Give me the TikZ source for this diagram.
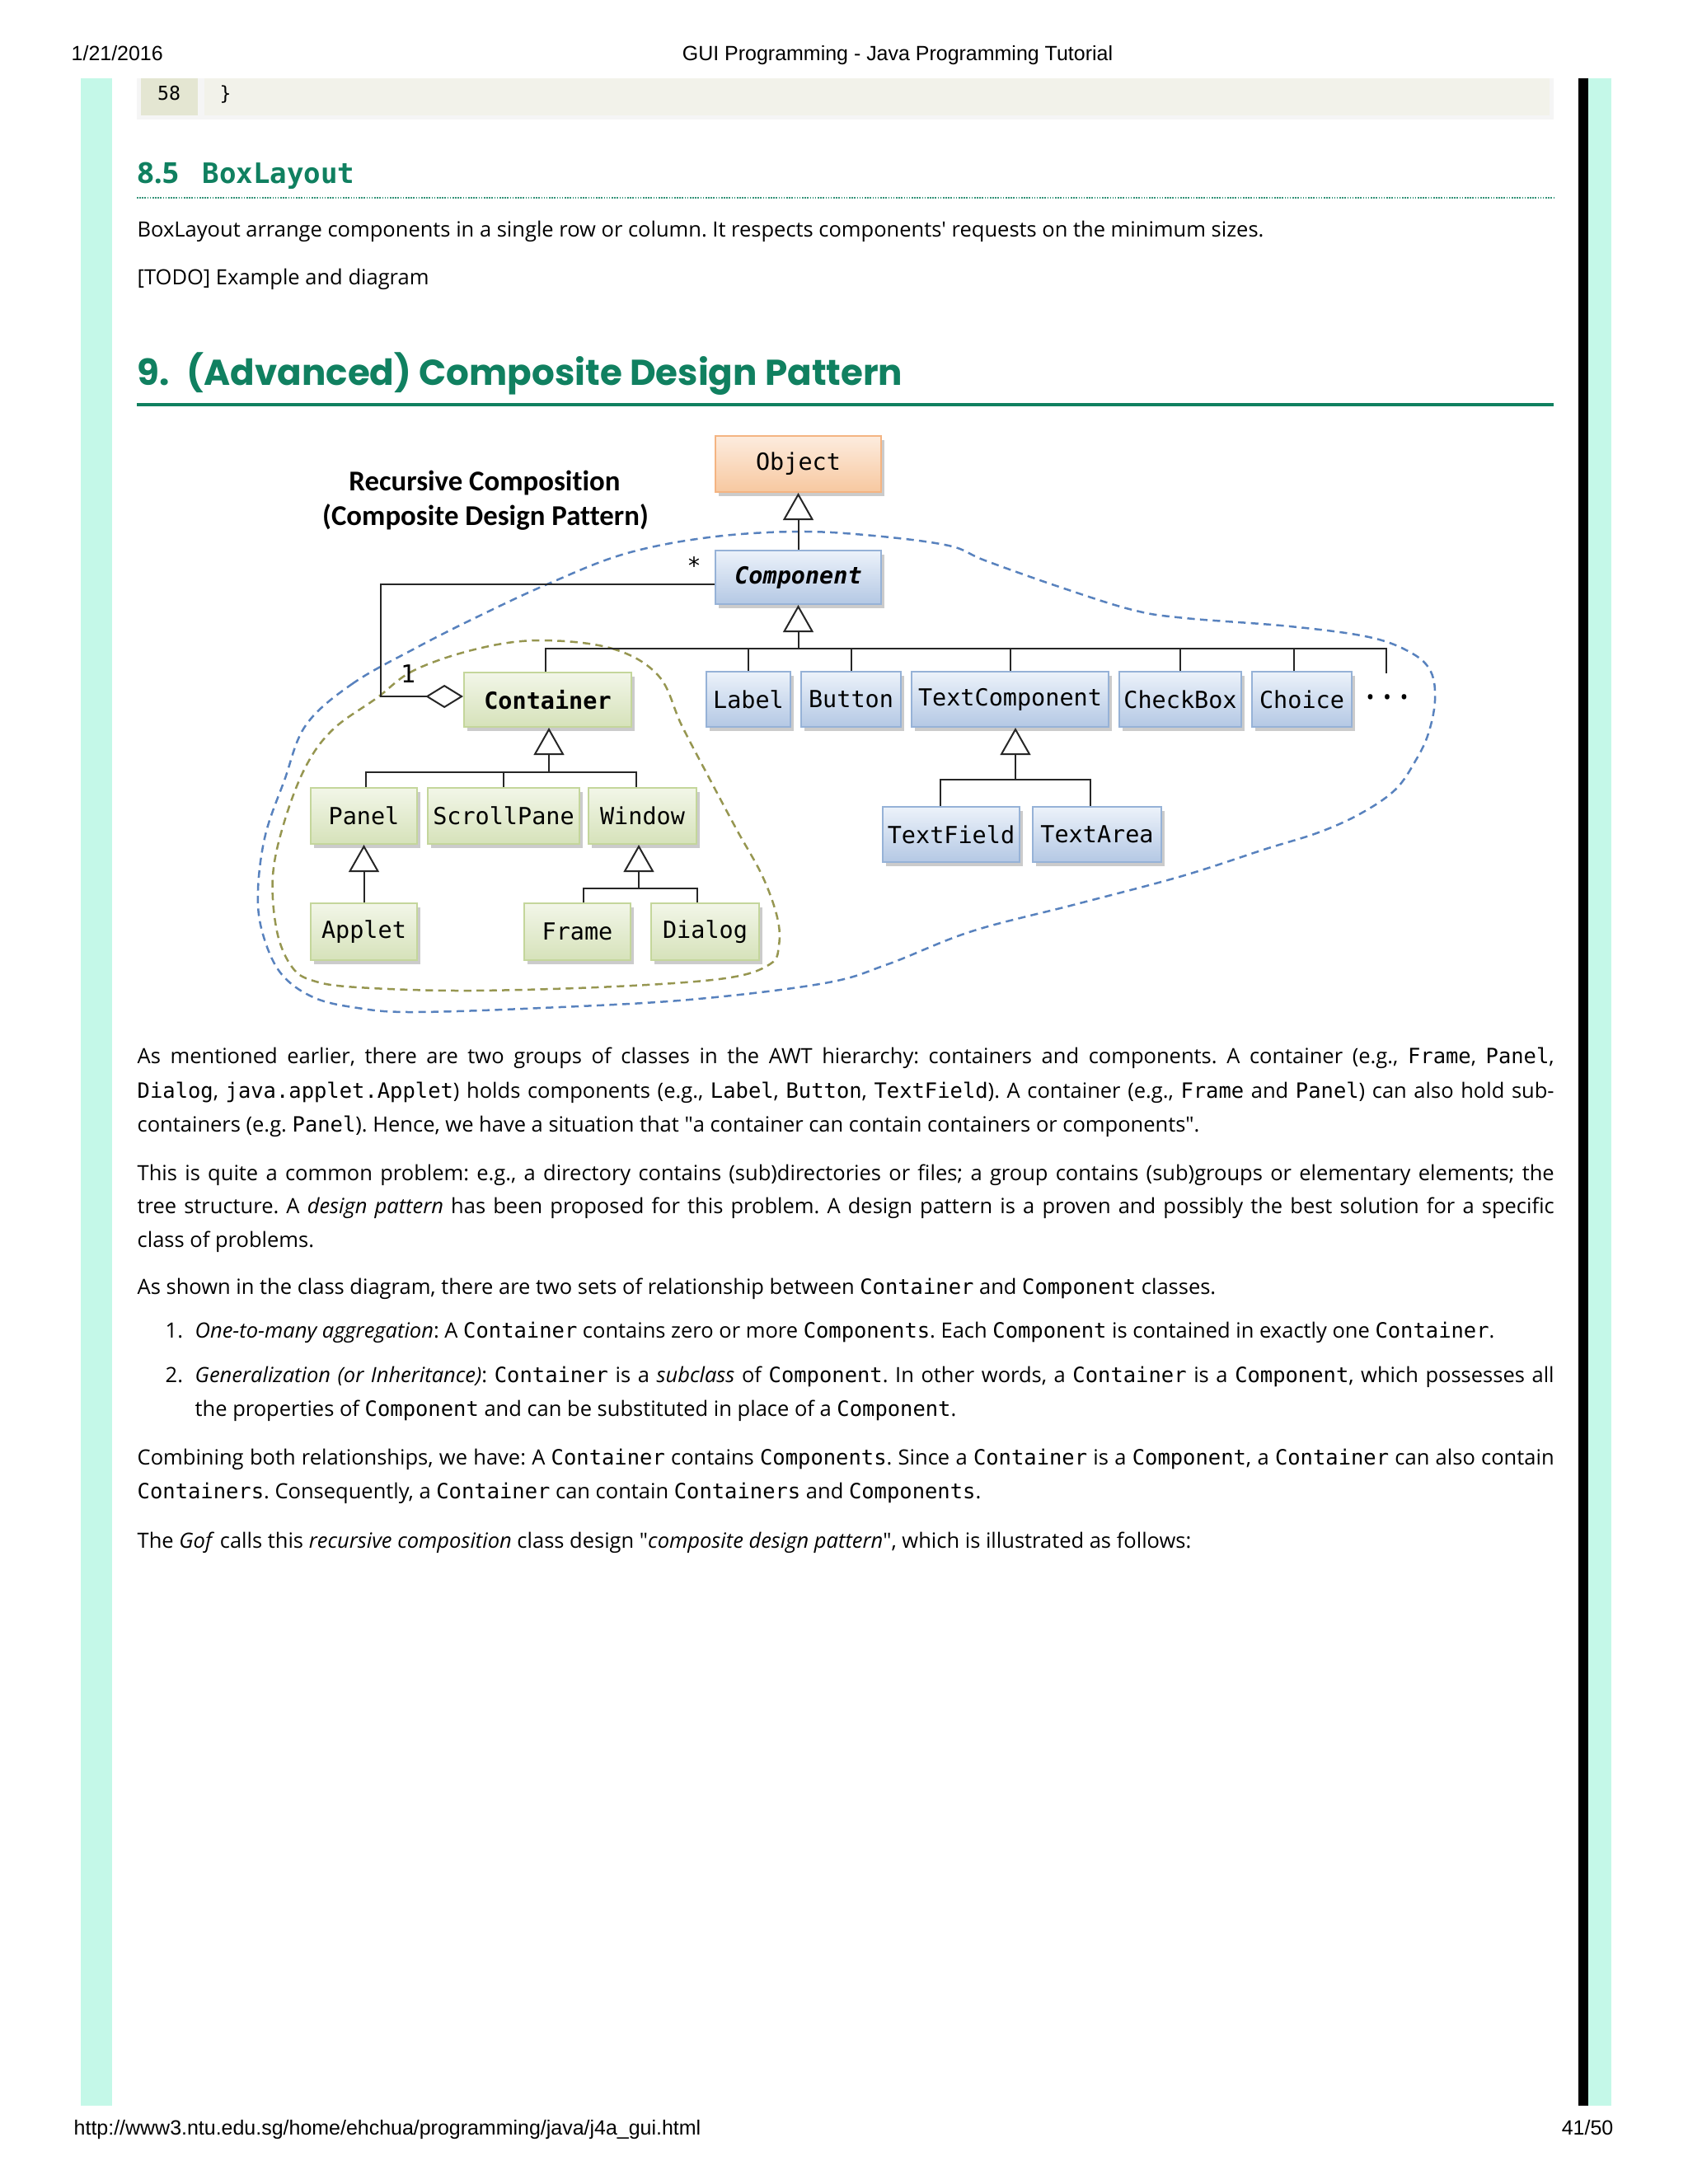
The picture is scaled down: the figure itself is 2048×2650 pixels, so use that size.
\documentclass[tikz,border=0pt]{standalone}
\usepackage{fontspec}
\setmainfont{Open Sans}
\newfontfamily\cmono{DejaVu Sans Mono}[Scale=1.0]
\newfontfamily\dmono{DejaVu Sans Mono}
\newfontfamily\headfont{Poppins}
\newfontfamily\arialf{Liberation Sans}
\newfontfamily\calib{Carlito}[Ligatures=NoCommon]
\usetikzlibrary{arrows.meta,shadows}
\newdimen\upx \upx=0.01cm
\newcommand\cd[1]{{\cmono #1}}
\newcommand\jline[2]{\hbox to #1\upx{#2}}
\newcommand\sq{\textquotedbl}
\definecolor{hgreen}{RGB}{16,128,96}
\definecolor{mint}{RGB}{196,248,232}
\definecolor{bluedash}{RGB}{88,130,190}
\definecolor{olivedash}{RGB}{150,150,80}
\definecolor{otop}{RGB}{253,236,222}
\definecolor{obot}{RGB}{247,200,160}
\definecolor{oborder}{RGB}{244,180,130}
\definecolor{btop}{RGB}{236,242,250}
\definecolor{bbot}{RGB}{180,200,228}
\definecolor{bborder}{RGB}{150,178,215}
\definecolor{gtop}{RGB}{242,246,232}
\definecolor{gbot}{RGB}{214,226,186}
\definecolor{gborder}{RGB}{196,214,155}
\definecolor{numcell}{RGB}{228,230,210}
\definecolor{codecell}{RGB}{242,242,234}
\tikzset{
  boxbase/.style={line width=2\upx, inner sep=0pt, text=black,
    font=\dmono\fontsize{8.1}{9}\selectfont,
    drop shadow={shadow xshift=4\upx, shadow yshift=-5\upx, fill=black!45, opacity=0.45}},
  obox/.style={boxbase, draw=oborder, top color=otop, bottom color=obot},
  bbox/.style={boxbase, draw=bborder, top color=btop, bottom color=bbot},
  gbox/.style={boxbase, draw=gborder, top color=gtop, bottom color=gbot},
  conn/.style={line width=2\upx, draw=black!85},
  gen/.style={conn, -{Triangle[open, length=9.4pt, width=10.5pt, fill=white]}},
  agg/.style={conn, -{Diamond[open, length=13pt, width=8pt, fill=white]}},
  hdr/.style={inner sep=0pt, font=\arialf\fontsize{7.1}{8}\selectfont},
  body/.style={inner sep=0pt, anchor=base west, font=\frenchspacing\fontsize{7.25}{8.7}\selectfont},
  bluedashed/.style={draw=bluedash, line width=2.5\upx, dash pattern=on 2.6pt off 1.8pt},
  olivedashed/.style={draw=olivedash, line width=2.5\upx, dash pattern=on 2.6pt off 1.8pt}
}
\begin{document}
\begin{tikzpicture}[x=0.01cm, y=-0.01cm]
\useasboundingbox (0,0) rectangle (2048,2650);
\fill[white] (0,0) rectangle (2048,2650);
% side bars
\fill[mint] (98,95) rectangle (136,2555);
\fill[black] (1915,95) rectangle (1927,2555);
\fill[mint] (1927,95) rectangle (1955,2555);
% header / footer
\node[hdr, anchor=base west] (date) at (86,73) {1/21/2016};
\node[hdr, anchor=base] (ptitle) at (1089,73) {GUI Programming - Java Programming Tutorial};
\node[hdr, anchor=base west] (url) at (89,2590) {http://www3.ntu.edu.sg/home/ehchua/programming/java/j4a\_gui.html};
\node[hdr, anchor=base east] (pg) at (1958,2590) {41/50};
% code block remainder
\fill[black!4] (166,95) rectangle (1885,145);
\fill[numcell] (171,95) rectangle (240,140);
\fill[codecell] (248,95) rectangle (1880,140);
\node[font=\dmono\fontsize{6.6}{8}\selectfont, inner sep=0pt, anchor=base] (ln58) at (205,121) {58};
\node[font=\dmono\fontsize{6.6}{8}\selectfont, inner sep=0pt, anchor=base west] (brace) at (266,121) {\}};
% heading 8.5
\node[inner sep=0pt, anchor=base west, text=hgreen, font=\bfseries\fontsize{10}{12}\selectfont] (h85num) at (166,222) {8.5};
\node[inner sep=0pt, anchor=base west, text=hgreen, font=\dmono\bfseries\fontsize{9.7}{12}\selectfont] (h85name) at (245,222) {BoxLayout};
\draw[hgreen!85, line width=1.6\upx, dash pattern=on 0.45pt off 0.45pt] (166,240) -- (1885,240);
\node[body] (t1) at (166,287) {BoxLayout arrange components in a single row or column. It respects components\textquotesingle{} requests on the minimum sizes.};
\node[body] (t2) at (166,345) {[TODO] Example and diagram};
% heading 9
\node[inner sep=0pt, anchor=base west, text=hgreen, font=\headfont\bfseries\fontsize{12.4}{15}\selectfont] (h9) at (166,467) {9.\hspace{6pt}(Advanced) Composite Design Pattern};
\fill[hgreen] (166,489) rectangle (1885,493);

% ---------------- diagram ----------------
\draw[bluedashed] plot[smooth cycle, tension=0.6] coordinates {
 (371,880) (427,830) (503,787) (580,748) (666,708) (758,672) (860,652) (967,645)
 (1060,650) (1151,662) (1195,680) (1285,712) (1374,740) (1438,750) (1565,760)
 (1661,773) (1712,792) (1736,815) (1741,850) (1733,890) (1718,922) (1693,958)
 (1651,987) (1600,1010) (1536,1030) (1434,1063) (1306,1097) (1179,1130)
 (1077,1170) (1000,1193) (836,1213) (657,1223) (501,1228) (434,1223) (380,1210)
 (340,1180) (318,1130) (313,1080) (322,1013) (345,947)};
\draw[olivedashed] plot[smooth cycle, tension=0.6] coordinates {
 (656,777) (743,787) (799,820) (827,880) (862,947) (894,1007) (925,1063) (943,1113)
 (945,1147) (934,1170) (880,1187) (746,1197) (568,1202) (434,1198) (380,1190)
 (354,1173) (336,1130) (331,1063) (345,997) (371,930) (404,885) (457,847) (503,813)
 (580,787)};

\node[font=\calib\bfseries\fontsize{9.9}{11}\selectfont, anchor=base, inner sep=0pt] (rc1) at (588,595) {Recursive Composition};
\node[font=\calib\bfseries\fontsize{9.9}{11}\selectfont, anchor=base, inner sep=0pt] (rc2) at (589,637) {(Composite Design Pattern)};

\node[obox, minimum width=201\upx, minimum height=68\upx] (object) at (968.5,563) {Object};
\node[bbox, minimum width=201\upx, minimum height=65\upx, font=\dmono\bfseries\itshape\fontsize{8.1}{9}\selectfont] (component) at (968.5,700.5) {Component};
\node[gbox, minimum width=203\upx, minimum height=66\upx, font=\dmono\bfseries\fontsize{8.1}{9}\selectfont] (container) at (664.5,849) {Container};
\node[bbox, minimum width=102\upx, minimum height=67\upx] (label) at (908,848.5) {Label};
\node[bbox, minimum width=121\upx, minimum height=67\upx] (button) at (1032.5,848.5) {Button};
\node[bbox, minimum width=239\upx, minimum height=67\upx] (textcomponent) at (1225.5,848.5) {TextComponent};
\node[bbox, minimum width=148\upx, minimum height=67\upx] (checkbox) at (1432,848.5) {CheckBox};
\node[bbox, minimum width=121\upx, minimum height=67\upx] (choice) at (1579.5,848.5) {Choice};
\node[inner sep=0pt, font=\fontsize{7.5}{8}\selectfont] (dots) at (1683,849) {\textbullet\hspace{3pt}\textbullet\hspace{3pt}\textbullet};
\node[bbox, minimum width=166\upx, minimum height=67\upx] (textfield) at (1154,1012.5) {TextField};
\node[bbox, minimum width=156\upx, minimum height=67\upx] (textarea) at (1331,1012.5) {TextArea};
\node[gbox, minimum width=129\upx, minimum height=68\upx] (panel) at (441.5,990) {Panel};
\node[gbox, minimum width=184\upx, minimum height=68\upx] (scrollpane) at (611,990) {ScrollPane};
\node[gbox, minimum width=131\upx, minimum height=68\upx] (window) at (779.5,990) {Window};
\node[gbox, minimum width=129\upx, minimum height=69\upx] (applet) at (441.5,1130.5) {Applet};
\node[gbox, minimum width=129\upx, minimum height=69\upx] (frame) at (700.5,1130.5) {Frame};
\node[gbox, minimum width=131\upx, minimum height=69\upx] (dialog) at (855.5,1130.5) {Dialog};

\node[inner sep=0pt, font=\dmono\fontsize{8}{9}\selectfont] (star) at (842,686) {*};
\node[inner sep=0pt, font=\dmono\fontsize{8.5}{9}\selectfont] (one) at (495,818) {1};

% Component -> Object
\draw[gen] (component.north) -- (object.south);
% Component subclasses
\coordinate (cb) at (968.5,787);
\coordinate (cend) at (1682,787);
\coordinate (cendlow) at (1682,817);
\draw[gen] (cb) -- (component.south);
\draw[conn] ([xshift=-3\upx]container.north) -- ([xshift=-3\upx]container.north |- cb) -- (cend) -- (cendlow);
\draw[conn] (label.north) -- (label.north |- cb);
\draw[conn] (button.north) -- (button.north |- cb);
\draw[conn] (textcomponent.north) -- (textcomponent.north |- cb);
\draw[conn] (checkbox.north) -- (checkbox.north |- cb);
\draw[conn] ([xshift=-9.5\upx]choice.north) -- ([xshift=-9.5\upx]choice.north |- cb);
% aggregation
\coordinate (ag1) at (462,709);
\coordinate (ag2) at (462,845);
\draw[agg] (component.west |- ag1) -- (ag1) -- (ag2) -- (container.west |- ag2);
% TextComponent subclasses
\coordinate (tb) at (1232,946);
\draw[gen] (tb) -- (tb |- textcomponent.south);
\draw[conn] ([xshift=-13\upx]textfield.north) -- ([xshift=-13\upx]textfield.north |- tb) -- ([xshift=-8\upx]textarea.north |- tb) -- ([xshift=-8\upx]textarea.north);
% Container subclasses
\coordinate (kb) at (666,937);
\draw[gen] (kb) -- (kb |- container.south);
\draw[conn] ([xshift=2.5\upx]panel.north) -- ([xshift=2.5\upx]panel.north |- kb) -- ([xshift=-7.5\upx]window.north |- kb) -- ([xshift=-7.5\upx]window.north);
\draw[conn] (scrollpane.north) -- (scrollpane.north |- kb);
% Panel -> Applet
\draw[gen] (applet.north) -- (panel.south);
% Window subclasses
\coordinate (wb) at (775,1078);
\draw[gen] (wb) -- (wb |- window.south);
\draw[conn] ([xshift=7.5\upx]frame.north) -- ([xshift=7.5\upx]frame.north |- wb) -- ([xshift=-9.5\upx]dialog.north |- wb) -- ([xshift=-9.5\upx]dialog.north);

% ---------------- body text ----------------
\node[body] (p1a) at (166,1290) {\jline{1719}{As mentioned earlier, there are two groups of classes in the AWT hierarchy: containers and components. A container (e.g., \cd{Frame}, \cd{Panel},}};
\node[body] (p1b) at (166,1332) {\jline{1719}{\cd{Dialog}, \cd{java.applet.Applet}) holds components (e.g., \cd{Label}, \cd{Button}, \cd{TextField}). A container (e.g., \cd{Frame} and \cd{Panel}) can also hold sub-}};
\node[body] (p1c) at (166,1373) {containers (e.g. \cd{Panel}). Hence, we have a situation that \sq{}a container can contain containers or components\sq{}.};
\node[body] (p2a) at (166,1432) {\jline{1719}{This is quite a common problem: e.g., a directory contains (sub)directories or files; a group contains (sub)groups or elementary elements; the}};
\node[body] (p2b) at (166,1472) {\jline{1719}{tree structure. A \emph{design pattern} has been proposed for this problem. A design pattern is a proven and possibly the best solution for a specific}};
\node[body] (p2c) at (166,1513) {class of problems.};
\node[body] (p3) at (166,1570) {As shown in the class diagram, there are two sets of relationship between \cd{Container} and \cd{Component} classes.};
\node[body] (n1) at (200,1623) {1.};
\node[body] (i1) at (236,1623) {\emph{One-to-many aggregation}: A \cd{Container} contains zero or more \cd{Components}. Each \cd{Component} is contained in exactly one \cd{Container}.};
\node[body] (n2) at (200,1677) {2.};
\node[body] (i2a) at (236,1677) {\jline{1649}{\emph{Generalization (or Inheritance)}: \cd{Container} is a \emph{subclass} of \cd{Component}. In other words, a \cd{Container} is a \cd{Component}, which possesses all}};
\node[body] (i2b) at (236,1718) {the properties of \cd{Component} and can be substituted in place of a \cd{Component}.};
\node[body] (p4a) at (166,1777) {\jline{1719}{Combining both relationships, we have: A \cd{Container} contains \cd{Components}. Since a \cd{Container} is a \cd{Component}, a \cd{Container} can also contain}};
\node[body] (p4b) at (166,1818) {\cd{Containers}. Consequently, a \cd{Container} can contain \cd{Containers} and \cd{Components}.};
\node[body] (p5) at (166,1878) {The \emph{Gof} calls this \emph{recursive composition} class design \sq{}\emph{composite design pattern}\sq{}, which is illustrated as follows:};
\end{tikzpicture}
\end{document}
